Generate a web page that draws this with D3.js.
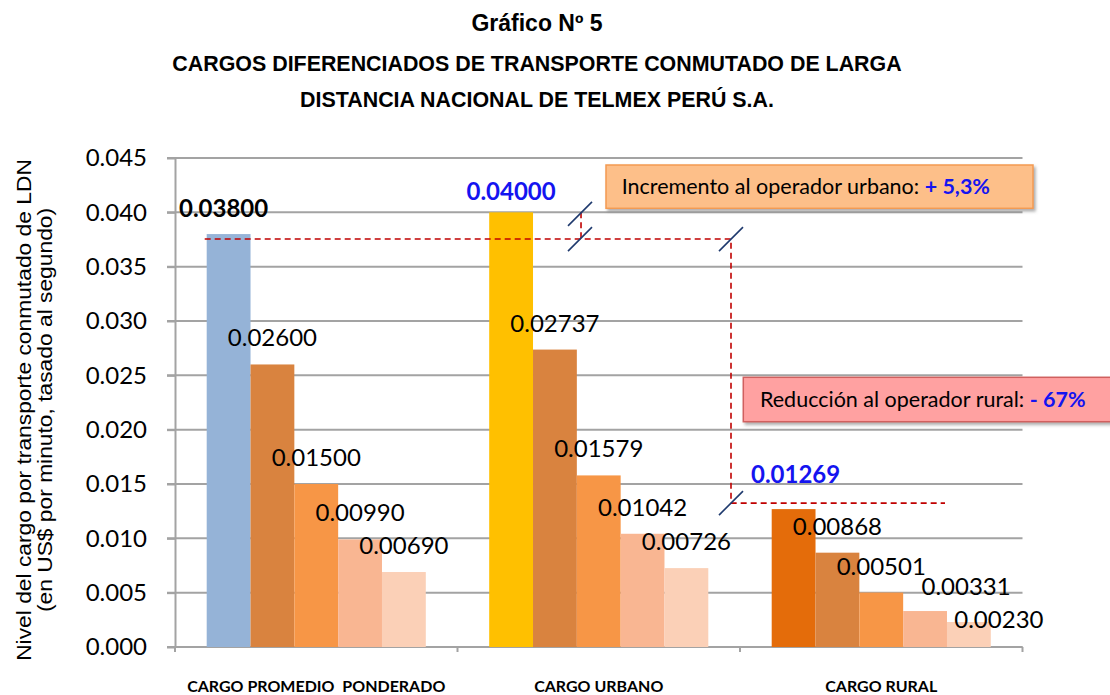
<!DOCTYPE html>
<html>
<head>
<meta charset="utf-8">
<script src="https://cdn.jsdelivr.net/npm/d3@7"></script>
<style>
body { margin: 0; background: #fff; }
svg text { font-family: Lato, "Open Sans", sans-serif; fill: #000; }
svg text.arial { font-family: "Liberation Sans", Arial, sans-serif; }
</style>
</head>
<body>
<svg width="1110" height="695"></svg>
<script>
// datos
var categories = ["CARGO PROMEDIO  PONDERADO", "CARGO URBANO", "CARGO RURAL"];
var cargoPrincipal = [0.03800, 0.04000, 0.01269];
var serie2 = [0.02600, 0.02737, 0.00868];
var serie3 = [0.01500, 0.01579, 0.00501];
var serie4 = [0.00990, 0.01042, 0.00331];
var serie5 = [0.00690, 0.00726, 0.00230];
var yTicks = [0, 0.005, 0.010, 0.015, 0.020, 0.025, 0.030, 0.035, 0.040, 0.045];
var titles = ["Gráfico Nº 5",
    "CARGOS DIFERENCIADOS DE TRANSPORTE CONMUTADO DE LARGA",
    "DISTANCIA NACIONAL DE TELMEX PERÚ S.A."];
var yTitle = ["Nivel del cargo por transporte conmutado de LDN",
    "(en US$ por minuto, tasado al segundo)"];
var notes = ["Incremento al operador urbano: ", "Reducción al operador rural: "];
var noteValues = ["+ 5,3%", "- 67%"];

var series = [cargoPrincipal, serie2, serie3, serie4, serie5];
var firstColors = ["#95B3D7", "#FFC000", "#E46C0A"];
var seriesColors = [null, "#D9833F", "#F79646", "#F9B692", "#FBD0B7"];
var blue = "#1414F0";

var svg = d3.select("svg");
var plotLeft = 175, plotRight = 1022.5, plotTop = 158, plotBottom = 647;

var y = d3.scaleLinear().domain([0, 0.045]).range([plotBottom, plotTop]);
var x0 = d3.scaleBand().domain(categories).range([plotLeft, plotRight]);
var x1 = d3.scaleBand().domain(d3.range(series.length))
    .range([31.7, x0.bandwidth() - 31.7]);

var defs = svg.append("defs");
defs.append("filter").attr("id", "shadow")
    .attr("x", "-5%").attr("y", "-20%").attr("width", "115%").attr("height", "150%")
    .append("feDropShadow")
    .attr("dx", 2).attr("dy", 2.5).attr("stdDeviation", 1.5)
    .attr("flood-color", "#777").attr("flood-opacity", 0.6);

// titulos
svg.selectAll("text.title").data(titles).enter().append("text")
    .attr("class", "title arial")
    .attr("x", 537)
    .attr("y", function (d, i) { return [31, 71, 107][i]; })
    .attr("text-anchor", "middle")
    .style("font-weight", "bold")
    .style("font-size", function (d, i) { return i === 0 ? "23px" : "21.4px"; })
    .text(function (d) { return d; });

// grilla
svg.append("g").selectAll("line").data(yTicks).enter().append("line")
    .attr("x1", plotLeft - 8).attr("x2", plotRight)
    .attr("y1", function (d) { return y(d); })
    .attr("y2", function (d) { return y(d); })
    .attr("stroke", "#A3A3A3").attr("stroke-width", 2);

// eje y
var yAxis = svg.append("g").attr("transform", "translate(" + plotLeft + ",0)")
    .call(d3.axisLeft(y).tickValues(yTicks).tickFormat(d3.format(".3f"))
        .tickSizeInner(8).tickSizeOuter(0).tickPadding(20));
yAxis.select(".domain").attr("stroke", "#A3A3A3").attr("stroke-width", 2);
yAxis.selectAll(".tick line").attr("stroke", "#A3A3A3").attr("stroke-width", 2);
yAxis.selectAll(".tick text").style("font-size", "24px");

yTitle.forEach(function (t, i) {
    svg.append("text").attr("class", "arial")
        .attr("transform", "translate(" + [31, 52][i] + "," + 410 + ") rotate(-90) scale(1.14,1)")
        .attr("text-anchor", "middle")
        .style("font-size", "20px")
        .text(t);
});

// eje x
svg.append("line").attr("x1", plotLeft).attr("x2", plotRight)
    .attr("y1", plotBottom).attr("y2", plotBottom)
    .attr("stroke", "#A3A3A3").attr("stroke-width", 2);
var bounds = categories.map(function (c) { return x0(c); }).concat([plotRight]);
svg.append("g").selectAll("line").data(bounds).enter().append("line")
    .attr("x1", function (d) { return d; }).attr("x2", function (d) { return d; })
    .attr("y1", plotBottom).attr("y2", plotBottom + 5)
    .attr("stroke", "#A3A3A3").attr("stroke-width", 2);
svg.append("g").selectAll("text").data(categories).enter().append("text")
    .attr("x", function (d) { return x0(d) + x0.bandwidth() / 2; })
    .attr("y", 692)
    .attr("text-anchor", "middle")
    .style("font-size", "16px").style("font-weight", "bold")
    .style("white-space", "pre")
    .text(function (d) { return d; });

// barras
var cells = [];
categories.forEach(function (c, i) {
    series.forEach(function (s, j) {
        cells.push({cat: c, ci: i, si: j, v: s[i]});
    });
});

svg.append("g").selectAll("rect").data(cells).enter().append("rect")
    .attr("x", function (d) { return x0(d.cat) + x1(d.si); })
    .attr("y", function (d) { return y(d.v); })
    .attr("width", x1.bandwidth())
    .attr("height", function (d) { return y(0) - y(d.v); })
    .attr("fill", function (d) { return d.si === 0 ? firstColors[d.ci] : seriesColors[d.si]; });

// lineas de referencia
var dash = {stroke: "#C00000", "stroke-width": 1.6, "stroke-dasharray": "6,4", fill: "none"};
var yHigh = y(cargoPrincipal[0]) + 5;
var yLow = y(cargoPrincipal[2]) - 6;
var xTurn = x0(categories[2]) - 9;
var xUrb = x0(categories[1]) + x1(0) + x1.bandwidth() + 48;
function dashed(pts) {
    var p = svg.append("path").attr("d", d3.line()(pts));
    for (var k in dash) p.attr(k, dash[k]);
}
dashed([[x0(categories[0]) + x1(0) - 2, yHigh], [xTurn, yHigh], [xTurn, yLow], [945, yLow]]);
dashed([[xUrb, y(cargoPrincipal[1])], [xUrb, yHigh]]);

var slashes = [[xUrb - 1, y(cargoPrincipal[1]) + 1.5], [xUrb - 1, yHigh], [xTurn, yHigh], [xTurn, yLow]];
svg.append("g").selectAll("line").data(slashes).enter().append("line")
    .attr("x1", function (d) { return d[0] - 12; })
    .attr("y1", function (d) { return d[1] + 12; })
    .attr("x2", function (d) { return d[0] + 12; })
    .attr("y2", function (d) { return d[1] - 12; })
    .attr("stroke", "#1F3A6E").attr("stroke-width", 1.6);

// etiquetas de valores (algunas desplazadas como en el original)
var fmt = d3.format(".5f");
var labelShift = {"0-0": [-5, 17], "1-0": [0, 12], "2-0": [2, 26], "2-3": [41, 16], "2-4": [30, -6]};
function shift(d) { return labelShift[d.ci + "-" + d.si] || [0, 18]; }
svg.append("g").selectAll("text").data(cells).enter().append("text")
    .attr("x", function (d) { return x0(d.cat) + x1(d.si) + x1.bandwidth() / 2 + shift(d)[0]; })
    .attr("y", function (d) { return y(d.v) - shift(d)[1]; })
    .attr("text-anchor", "middle")
    .style("font-size", "24px")
    .style("font-weight", function (d) { return d.si === 0 ? "bold" : "normal"; })
    .style("fill", function (d) { return d.si === 0 && d.ci > 0 ? blue : "#000"; })
    .text(function (d) { return fmt(d.v); });

// cuadros de nota
var boxes = [
    {x: 606, y: 165, w: 427, h: 43.3, fill: "#FDBF89", stroke: "#F39B52", tx: 621.7, ty: 194},
    {x: 743.3, y: 377.3, w: 368, h: 44.4, fill: "#FFA1A1", stroke: "#D0605E", tx: 760, ty: 406.7}
];
boxes.forEach(function (b, i) {
    svg.append("rect").attr("x", b.x).attr("y", b.y).attr("width", b.w).attr("height", b.h)
        .attr("fill", b.fill).attr("stroke", b.stroke).attr("stroke-width", 1.5)
        .attr("filter", "url(#shadow)");
    var t = svg.append("text").attr("x", b.tx).attr("y", b.ty)
        .style("font-size", "21.5px").style("white-space", "pre");
    t.append("tspan").text(notes[i]);
    t.append("tspan").style("font-weight", "bold").style("fill", blue).text(noteValues[i]);
});
</script>
</body>
</html>
